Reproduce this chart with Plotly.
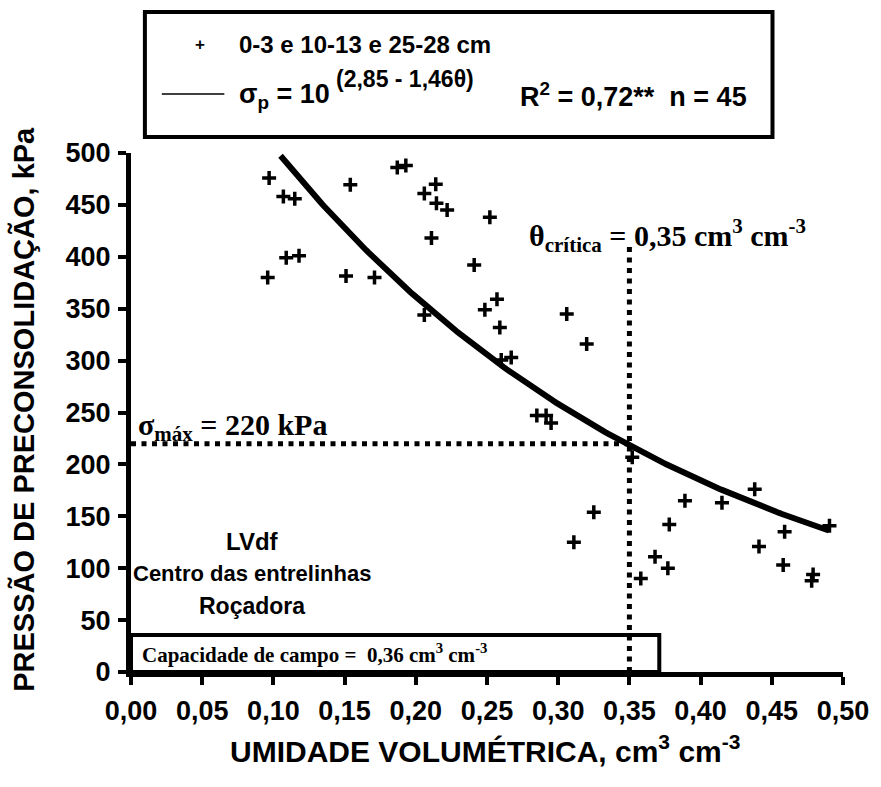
import numpy as np
import plotly.graph_objects as go

# Volumetric water content (cm3 cm-3) and preconsolidation pressure (kPa)
theta = [0.097, 0.107, 0.115, 0.154, 0.109, 0.118, 0.096, 0.151, 0.171,
         0.187, 0.193, 0.214, 0.206, 0.2145, 0.222, 0.252, 0.211, 0.241,
         0.257, 0.2485, 0.259, 0.206, 0.306, 0.320, 0.267, 0.260, 0.285,
         0.2915, 0.295, 0.352, 0.438, 0.389, 0.415, 0.325, 0.378, 0.4905,
         0.459, 0.311, 0.441, 0.368, 0.377, 0.458, 0.479, 0.478, 0.358]
sigma = [476, 458, 456, 469.5, 399, 401, 380, 381.5, 380,
         486, 488, 470, 461, 451.5, 445, 438, 418, 392,
         359, 349, 332, 344, 345, 316, 303, 300.5, 247,
         247, 240, 207, 176, 165, 163, 154, 142, 141,
         135, 125, 121, 111, 100, 103, 94, 88, 90]

# Fitted model sigma_p = 10^(a - b*theta)
fit_a, fit_b = 2.85, 1.46
fit_theta_min, fit_theta_max = 0.105, 0.49

sigma_max = 220      # kPa
theta_crit = 0.35    # cm3 cm-3
theta_crit_top = 414

x_ticks = [0.00, 0.05, 0.10, 0.15, 0.20, 0.25, 0.30, 0.35, 0.40, 0.45, 0.50]
x_tick_labels = ["0,00", "0,05", "0,10", "0,15", "0,20", "0,25",
                 "0,30", "0,35", "0,40", "0,45", "0,50"]
y_ticks = [0, 50, 100, 150, 200, 250, 300, 350, 400, 450, 500]
y_tick_labels = [str(v) for v in y_ticks]

SANS = "Liberation Sans, Arial, sans-serif"
SERIF = "Liberation Serif, Times New Roman, serif"

W, H = 881, 787
ML, MR, MT, MB = 131, 33, 153, 115


def xp(px):
    """Pixel column -> paper x."""
    return (px - ML) / (W - ML - MR)


def yp(py):
    """Pixel row -> paper y."""
    return (H - MB - py) / (H - MT - MB)


theta_fit = np.linspace(fit_theta_min, fit_theta_max, 200)
sigma_fit = 10 ** (fit_a - fit_b * theta_fit)

fig = go.Figure()

fig.add_trace(go.Scatter(
    x=theta, y=sigma, mode="markers", cliponaxis=False,
    marker=dict(symbol="cross-thin", size=10, color="black",
                line=dict(width=3.5, color="black")),
    showlegend=False))

fig.add_trace(go.Scatter(
    x=theta_fit, y=sigma_fit, mode="lines", cliponaxis=False,
    line=dict(color="black", width=6), showlegend=False))

dot = "5px,5.5px"
fig.add_trace(go.Scatter(
    x=[0, theta_crit], y=[sigma_max, sigma_max], mode="lines",
    line=dict(color="black", width=5, dash=dot), showlegend=False))
fig.add_trace(go.Scatter(
    x=[theta_crit, theta_crit], y=[0, theta_crit_top], mode="lines",
    line=dict(color="black", width=5, dash=dot), showlegend=False))

shapes = [
    # legend frame
    dict(type="rect", xref="paper", yref="paper",
         x0=xp(145), x1=xp(777), y0=yp(137), y1=yp(12),
         line=dict(color="black", width=4), fillcolor="white", layer="below"),
    # legend line sample
    dict(type="line", xref="paper", yref="paper",
         x0=xp(162), x1=xp(225), y0=yp(94), y1=yp(94),
         line=dict(color="black", width=1.5)),
    # field capacity box
    dict(type="rect", xref="paper", yref="paper",
         x0=0, x1=xp(663), y0=0, y1=yp(635),
         line=dict(color="black", width=4)),
]

bold_sans = lambda s: dict(size=s, family=SANS, weight="bold")
bold_serif = lambda s: dict(size=s, family=SERIF, weight="bold")

annotations = [
    dict(text="+", x=xp(200), y=yp(44), font=bold_sans(17)),
    dict(text="0-3 e 10-13 e 25-28 cm", x=xp(238), y=yp(44), xanchor="left",
         font=bold_sans(24)),
    dict(text="σ<sub>p</sub> = 10", x=xp(333), y=yp(96), xanchor="right",
         font=bold_sans(27)),
    dict(text="(2,85 - 1,46θ)", x=xp(335), y=yp(79), xanchor="left",
         font=bold_sans(23)),
    dict(text="R<sup>2</sup> = 0,72**\u00a0\u00a0n = 45", x=xp(521), y=yp(95),
         xanchor="left", font=bold_sans(27)),
    dict(text="σ<sub>máx</sub> = 220 kPa", x=xp(136), y=yp(427), xanchor="left",
         font=bold_serif(30)),
    dict(text="θ<sub>crítica</sub> = 0,35 cm<sup>3</sup> cm<sup>-3</sup>", x=xp(530),
         y=yp(235), xanchor="left", font=bold_serif(30)),
    dict(text="LVdf", x=xp(253), y=yp(541), font=bold_sans(24)),
    dict(text="Centro das entrelinhas", x=xp(253), y=yp(573), font=bold_sans(22)),
    dict(text="Roçadora", x=xp(253), y=yp(606), font=bold_sans(23)),
    dict(text="Capacidade de campo =\u00a0\u00a00,36 cm<sup>3</sup> cm<sup>-3</sup>",
         x=xp(140), y=yp(653), xanchor="left", font=bold_serif(21)),
    dict(text="UMIDADE VOLUMÉTRICA, cm<sup>3</sup> cm<sup>-3</sup>", x=xp(487), y=yp(749),
         font=bold_sans(30)),
    dict(text="PRESSÃO DE PRECONSOLIDAÇÃO, kPa", x=xp(22), y=yp(409), textangle=-90,
         font=bold_sans(29)),
]
for a in annotations:
    a.update(xref="paper", yref="paper", showarrow=False)
    a.setdefault("xanchor", "center")
    a.setdefault("yanchor", "middle")

axis_common = dict(showline=True, linecolor="black", linewidth=5, ticks="outside",
                   ticklen=8, tickwidth=4, tickcolor="black", showgrid=False,
                   zeroline=False, tickfont=dict(size=27, family=SANS, weight="bold",
                                                 color="black"))

fig.update_layout(
    width=W, height=H, margin=dict(l=ML, r=MR, t=MT, b=MB),
    paper_bgcolor="white", plot_bgcolor="white",
    font=dict(family=SANS, color="black"),
    xaxis=dict(range=[0, 0.5], tickvals=x_ticks, ticktext=x_tick_labels,
               ticklabelstandoff=3, **axis_common),
    yaxis=dict(range=[0, 500], tickvals=y_ticks, ticktext=y_tick_labels,
               ticklabelstandoff=2, **axis_common),
    shapes=shapes, annotations=annotations,
)

fig.write_html("out.html")
